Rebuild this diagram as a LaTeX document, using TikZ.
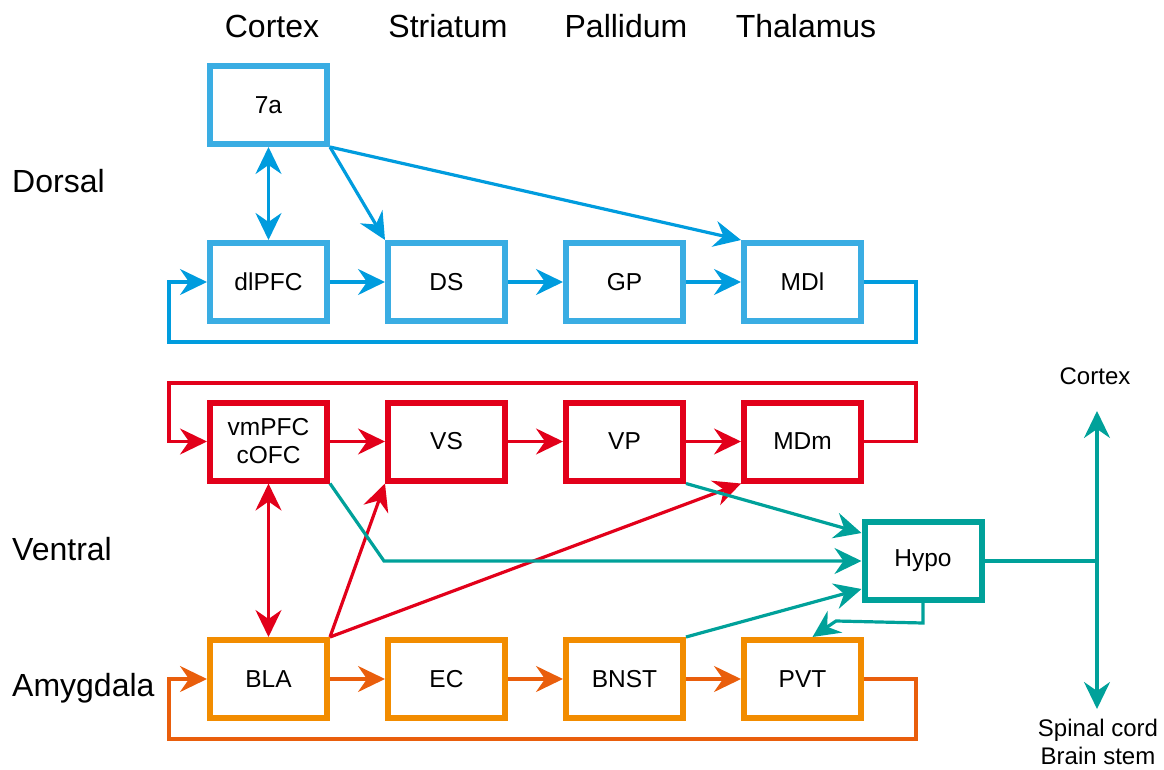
\documentclass[tikz,border=0pt]{standalone}
\usepackage{fontspec}
\setmainfont{Liberation Sans}
\usetikzlibrary{arrows.meta,calc}

\definecolor{boxblue}{RGB}{58,173,227}
\definecolor{lineblue}{RGB}{0,156,222}
\definecolor{nred}{RGB}{226,0,26}
\definecolor{boxorange}{RGB}{242,140,0}
\definecolor{lineorange}{RGB}{233,94,12}
\definecolor{nteal}{RGB}{0,161,154}

\tikzset{
  head/.style={Stealth[length=27pt,width=26pt,inset=9pt]},
  fwd/.style={-{Stealth[length=27pt,width=26pt,inset=9pt]}},
  both/.style={{Stealth[length=27pt,width=26pt,inset=9pt]}-{Stealth[length=27pt,width=26pt,inset=9pt]}},
  region/.style={draw,line width=6pt,minimum width=117pt,minimum height=78pt,
    inner sep=0pt,font=\fontsize{24.5}{28}\selectfont,align=center,fill=white},
  bbox/.style={region,draw=boxblue},
  rbox/.style={region,draw=nred},
  obox/.style={region,draw=boxorange},
  tbox/.style={region,draw=nteal},
  conn/.style={line width=3.2pt},
  bconn/.style={conn,draw=lineblue},
  rconn/.style={conn,draw=nred},
  oconn/.style={conn,draw=lineorange},
  tconn/.style={conn,draw=nteal},
  colhead/.style={font=\fontsize{32}{36}\selectfont,anchor=base,inner sep=0pt},
  rowhead/.style={font=\fontsize{32}{36}\selectfont,anchor=base west,inner sep=0pt},
  sidelabel/.style={font=\fontsize{24}{28}\selectfont,align=center},
}

\begin{document}
\begin{tikzpicture}[x=1pt,y=-1pt]
\useasboundingbox (0,0) rectangle (1164,770);

% column and row headings
\node[colhead] (hcx) at (272,38) {Cortex};
\node[colhead] (hst) at (448,38) {Striatum};
\node[colhead] (hpa) at (626,38) {Pallidum};
\node[colhead] (hth) at (806,38) {Thalamus};
\node[rowhead] (hdo) at (12,193) {Dorsal};
\node[rowhead] (hve) at (12,560) {Ventral};
\node[rowhead] (ham) at (12,696) {Amygdala};

% dorsal loop
\node[bbox] (a7)  at (268.5,105) {7a};
\node[bbox] (dl)  at (268.5,282) {dlPFC};
\node[bbox] (ds)  at (446.5,282) {DS};
\node[bbox] (gp)  at (624.5,282) {GP};
\node[bbox] (mdl) at (802.5,282) {MDl};

% ventral loop
\node[rbox] (vm)  at (268.5,441.5) {vmPFC\\cOFC};
\node[rbox] (vs)  at (446.5,441.5) {VS};
\node[rbox] (vp)  at (624.5,441.5) {VP};
\node[rbox] (mdm) at (802.5,441.5) {MDm};

% amygdala loop
\node[obox] (bla)  at (268.5,679) {BLA};
\node[obox] (ec)   at (446.5,679) {EC};
\node[obox] (bnst) at (624.5,679) {BNST};
\node[obox] (pvt)  at (802.5,679) {PVT};

% hypothalamus and its outputs
\node[tbox] (hypo) at (923,561) {Hypo};
\coordinate (junc) at (1097,561);
\coordinate (uptip) at (1097,411);
\coordinate (downtip) at (1097,709);
\node[sidelabel] (ocx) at (1095,376) {Cortex};
\node[sidelabel,anchor=north] (osc) at (1098,716) {Spinal cord\\Brain stem};

% dorsal connections
\draw[bconn,both] (a7) -- (dl);
\draw[bconn,fwd] (a7.south east) -- (ds.north west);
\draw[bconn,fwd] (a7.south east) -- (mdl.north west);
\draw[bconn,fwd] (dl) -- (ds);
\draw[bconn,fwd] (ds) -- (gp);
\draw[bconn,fwd] (gp) -- (mdl);
\draw[bconn,fwd] (mdl.east) -- ++(52,0) |- (169,342) |- (dl.west);

% ventral connections
\draw[rconn,fwd] (vm) -- (vs);
\draw[rconn,fwd] (vs) -- (vp);
\draw[rconn,fwd] (vp) -- (mdm);
\draw[rconn,fwd] (mdm.east) -- ++(52,0) |- (169,383) |- (vm.west);
\draw[rconn,both] (vm) -- (bla);
\draw[rconn,fwd] (bla.north east) -- (vs.south west);
\draw[rconn,fwd] (bla.north east) -- (mdm.south west);

% amygdala connections
\draw[oconn,fwd] (bla) -- (ec);
\draw[oconn,fwd] (ec) -- (bnst);
\draw[oconn,fwd] (bnst) -- (pvt);
\draw[oconn,fwd] (pvt.east) -- ++(52,0) |- (169,739) |- (bla.west);

% hypothalamic connections
\draw[tconn,fwd] (vm.south east) -- (384,561) -- (hypo.west);
\draw[tconn,fwd] (vp.south east) -- ([yshift=28pt]hypo.west);
\draw[tconn,fwd] (bnst.north east) -- ([yshift=-28pt]hypo.west);
\draw[tconn,fwd] (hypo.south) -- ++(0,20) -- (836,621) -- ([xshift=10pt]pvt.north);
\draw[tconn] (hypo.east) -- (junc);
\draw[tconn,both] (uptip) -- (downtip);
\end{tikzpicture}
\end{document}
